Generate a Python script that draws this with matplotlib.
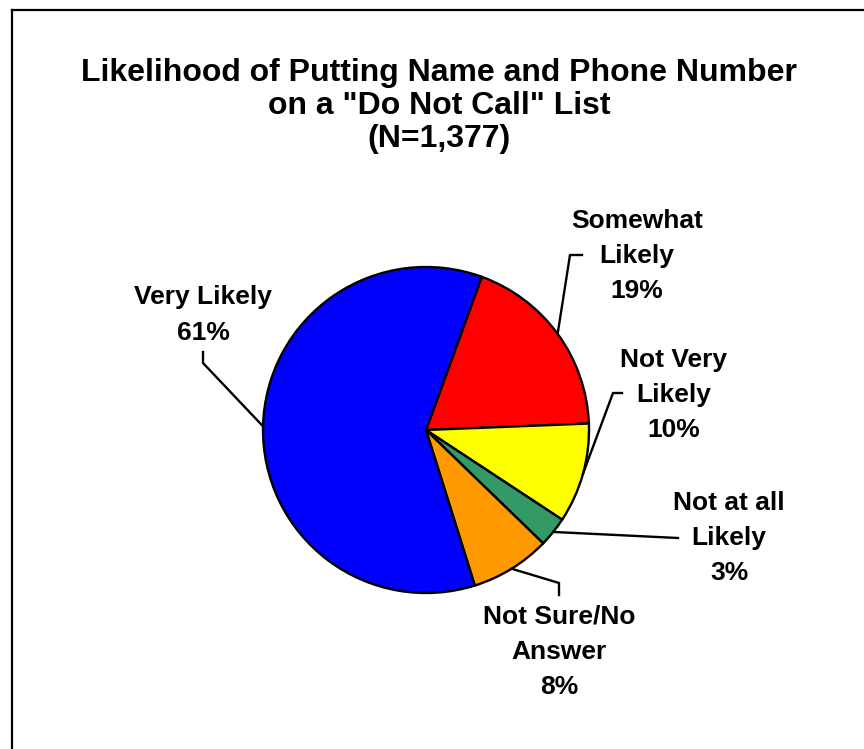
import numpy as np
import matplotlib
matplotlib.use("Agg")
import matplotlib.pyplot as plt
from matplotlib.lines import Line2D

plt.rcParams['font.family'] = ['Liberation Sans', 'DejaVu Sans']

# survey shares, clockwise from the top-right
labels = ["Somewhat\nLikely", "Not Very\nLikely", "Not at all\nLikely",
          "Not Sure/No\nAnswer", "Very Likely"]
shares = [19, 10, 3, 8, 61]
colors = ["#FF0000", "#FFFF00", "#339966", "#FF9900", "#0000FF"]

W, H = 864, 749
fig = plt.figure(figsize=(W / 100, H / 100), dpi=100)


def fpos(x, y):
    # pixel position (from top-left) to figure fraction
    return x / W, 1 - y / H


# pie placement in pixels
cx, cy, r = 426, 430, 163
ax = fig.add_axes([(cx - r) / W, (H - cy - r) / H, 2 * r / W, 2 * r / H])
wedges, _ = ax.pie(shares, colors=colors, startangle=70, counterclock=False,
                   radius=1.0, wedgeprops=dict(edgecolor="black", linewidth=1.7))
ax.set_xlim(-1, 1)
ax.set_ylim(-1, 1)
ax.set_aspect("equal")
ax.axis("off")

# frame (left and top edges only)
fig.add_artist(Line2D([12 / W, 12 / W], [0, 1 - 10 / H], color="black", lw=1.6,
                      transform=fig.transFigure))
fig.add_artist(Line2D([12 / W, 1], [1 - 10 / H, 1 - 10 / H], color="black", lw=1.6,
                      transform=fig.transFigure))

fig.text(*fpos(439, 106), 'Likelihood of Putting Name and Phone Number\n'
         'on a "Do Not Call" List\n(N=1,377)',
         ha="center", va="center", fontsize=23, fontweight="bold", linespacing=1.15)

# label text positions and leader-line bends (pixels)
label_xy = [(637, 256), (674, 395), (729, 538), (559, 652), (203, 315)]
leader_pts = [
    [(570, 255), (582, 255)],
    [(613, 393), (622, 393)],
    [(678, 538)],
    [(559, 583), (559, 595)],
    [(203, 363), (203, 352)],
]

to_fig = ax.transData + fig.transFigure.inverted()
for w, lab, val, (lx, ly), pts in zip(wedges, labels, shares, label_xy, leader_pts):
    mid = np.deg2rad((w.theta1 + w.theta2) / 2)
    start = to_fig.transform((np.cos(mid), np.sin(mid)))
    xs = [start[0]] + [p[0] / W for p in pts]
    ys = [start[1]] + [1 - p[1] / H for p in pts]
    fig.add_artist(Line2D(xs, ys, color="black", lw=1.7, transform=fig.transFigure))
    fig.text(*fpos(lx, ly), f"{lab}\n{val}%", ha="center", va="center",
             fontsize=19, fontweight="bold", linespacing=1.6)

fig.savefig("out.png", dpi=100, facecolor="white")
